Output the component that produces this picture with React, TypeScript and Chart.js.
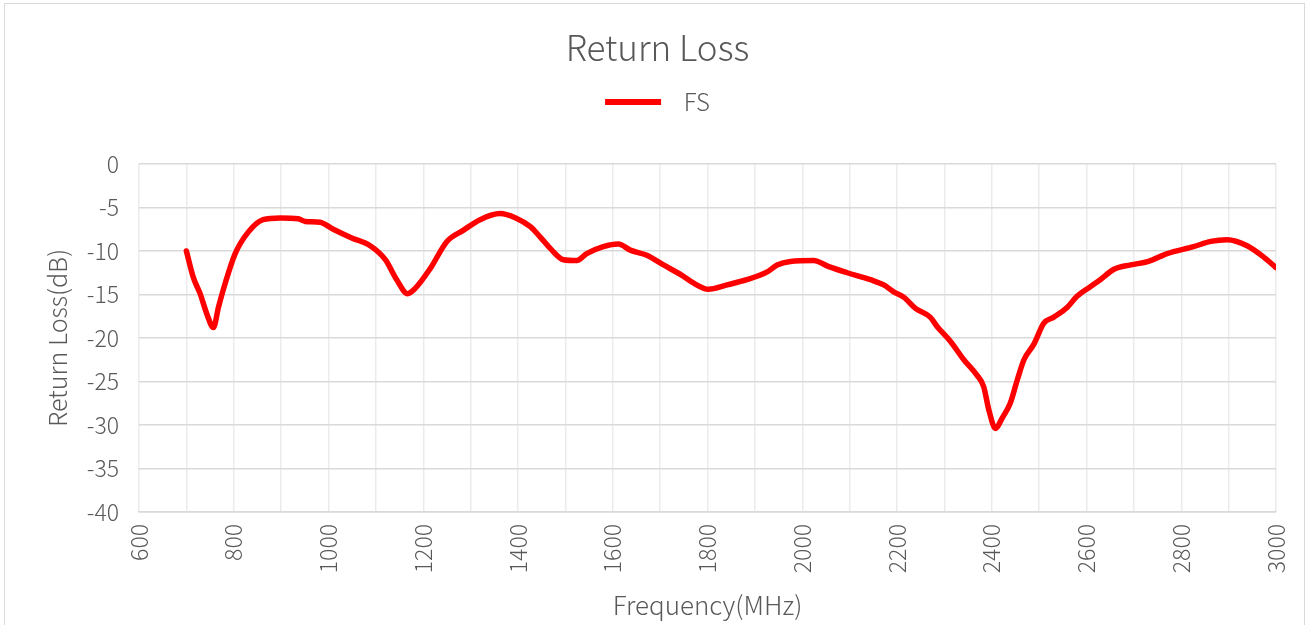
import React, { useEffect, useRef } from "react";
import { Chart, registerables } from "chart.js";

Chart.register(...registerables);

const chartTitle = "Return Loss";
const seriesName = "FS";
const xAxisTitle = "Frequency(MHz)";
const yAxisTitle = "Return Loss(dB)";

const frequencies: number[] = [
  700, 715, 729, 743, 757, 768, 782, 803, 831, 862, 898, 936, 951, 982, 1010, 1049, 1088,
  1120, 1144, 1167, 1183, 1215, 1250, 1285, 1320, 1362, 1395, 1426, 1447, 1468, 1496, 1524,
  1545, 1580, 1612, 1637, 1672, 1707, 1746, 1771, 1802, 1841, 1883, 1926, 1947, 1975, 2024,
  2056, 2095, 2144, 2172, 2193, 2214, 2239, 2270, 2285, 2313, 2341, 2369, 2383, 2394, 2408,
  2422, 2439, 2454, 2468, 2489, 2510, 2531, 2559, 2580, 2608, 2629, 2658, 2693, 2731, 2770,
  2826, 2862, 2897, 2939, 2974, 3000,
];

const returnLoss: number[] = [
  -10.0, -13.1, -14.9, -17.2, -18.8, -16.4, -13.7, -10.3, -7.8, -6.4, -6.2, -6.3, -6.6, -6.7,
  -7.5, -8.5, -9.4, -11.0, -13.3, -14.9, -14.3, -12.0, -8.9, -7.6, -6.4, -5.7, -6.2, -7.2,
  -8.4, -9.7, -11.0, -11.1, -10.3, -9.5, -9.2, -9.9, -10.5, -11.6, -12.8, -13.7, -14.4, -13.9,
  -13.3, -12.4, -11.6, -11.2, -11.1, -11.8, -12.5, -13.3, -13.9, -14.7, -15.3, -16.6, -17.6,
  -18.7, -20.4, -22.5, -24.3, -25.6, -28.3, -30.4, -29.2, -27.5, -24.8, -22.5, -20.7, -18.3,
  -17.6, -16.5, -15.2, -14.1, -13.3, -12.1, -11.6, -11.2, -10.3, -9.5, -8.9, -8.7, -9.4, -10.7,
  -11.9,
];

const xMin = 600;
const xMax = 3000;
const xGridStep = 100;
const xLabelStep = 200;
const yMin = -40;
const yMax = 0;
const yStep = 5;

const FONT = "'Noto Sans CJK SC', 'Noto Sans', sans-serif";
const TEXT = "#595959";

export default function App() {
  const ref = useRef<HTMLCanvasElement | null>(null);

  useEffect(() => {
    document.body.style.margin = "0";
    document.body.style.overflow = "hidden";
    const canvas = ref.current;
    if (!canvas) return;

    const legendSpacer = {
      id: "legendSpacer",
      beforeInit(chart: any) {
        const orig = chart.legend.fit;
        chart.legend.fit = function () {
          orig.call(this);
          this.height += 40;
        };
      },
    };

    const chart = new Chart(canvas, {
      type: "line",
      data: {
        datasets: [
          {
            label: seriesName,
            data: frequencies.map((f, i) => ({ x: f, y: returnLoss[i] })),
            borderColor: "#ff0000",
            backgroundColor: "#ff0000",
            borderWidth: 5.5,
            pointRadius: 0,
            cubicInterpolationMode: "monotone",
            borderCapStyle: "round",
            borderJoinStyle: "round",
            fill: false,
          },
        ],
      },
      options: {
        responsive: false,
        animation: false,
        devicePixelRatio: 1,
        layout: { padding: { left: 8, right: 0, top: 0, bottom: 0 } },
        plugins: {
          title: {
            display: true,
            text: chartTitle,
            color: TEXT,
            font: { family: FONT, size: 35, weight: "300" },
            padding: { top: 27, bottom: 11 },
          },
          legend: {
            display: true,
            position: "top",
            labels: {
              color: TEXT,
              font: { family: FONT, size: 24, weight: "300" },
              boxWidth: 56,
              boxHeight: 6,
              padding: 10,
              useBorderRadius: true,
              borderRadius: 3,
              generateLabels: () => [
                {
                  text: "  " + seriesName,
                  fillStyle: "#ff0000",
                  strokeStyle: "#ff0000",
                  lineWidth: 0,
                  hidden: false,
                  datasetIndex: 0,
                  fontColor: TEXT,
                } as any,
              ],
            },
          },
          tooltip: { enabled: false },
        },
        scales: {
          x: {
            type: "linear",
            min: xMin,
            max: xMax,
            afterFit: (s: any) => {
              s.height = 113;
              s.paddingRight = 0;
            },
            ticks: {
              stepSize: xGridStep,
              autoSkip: false,
              minRotation: 90,
              maxRotation: 90,
              padding: 12,
              color: TEXT,
              font: { family: FONT, size: 23, weight: "300" },
              callback: (v: any) => (Number(v) % xLabelStep === 0 ? String(v) : ""),
            },
            grid: { color: "#ebebeb", lineWidth: 1.5, drawTicks: false },
            border: { display: true, color: "#d9d9d9", width: 1.5 },
            title: {
              display: true,
              text: xAxisTitle,
              color: TEXT,
              font: { family: FONT, size: 26, weight: "300" },
              padding: { top: 0, bottom: 4 },
            },
          },
          y: {
            type: "linear",
            min: yMin,
            max: yMax,
            afterFit: (s: any) => {
              s.width = 131;
            },
            ticks: {
              stepSize: yStep,
              padding: 20,
              color: TEXT,
              font: { family: FONT, size: 23, weight: "300" },
            },
            grid: { color: "#d9d9d9", lineWidth: 1.5, drawTicks: false },
            border: { display: false },
            title: {
              display: true,
              text: yAxisTitle,
              color: TEXT,
              font: { family: FONT, size: 25, weight: "300" },
              padding: { top: 34, bottom: 0 },
            },
          },
          y2: {
            type: "linear",
            position: "right",
            display: true,
            afterFit: (s: any) => {
              s.width = 31;
            },
            ticks: { display: false },
            grid: { display: false, drawTicks: false },
            border: { display: false },
          },
        },
      } as any,
      plugins: [legendSpacer],
    });

    return () => chart.destroy();
  }, []);

  return (
    <div style={{ position: "relative", width: 1307, height: 625, overflow: "hidden", background: "#fff" }}>
      <div
        style={{
          position: "absolute",
          left: 4,
          top: 3,
          width: 1301,
          height: 700,
          boxSizing: "border-box",
          border: "1px solid #d9d9d9",
        }}
      />
      <canvas
        ref={ref}
        width={1307}
        height={625}
        style={{ position: "absolute", left: 0, top: 0, width: 1307, height: 625 }}
      />
    </div>
  );
}
